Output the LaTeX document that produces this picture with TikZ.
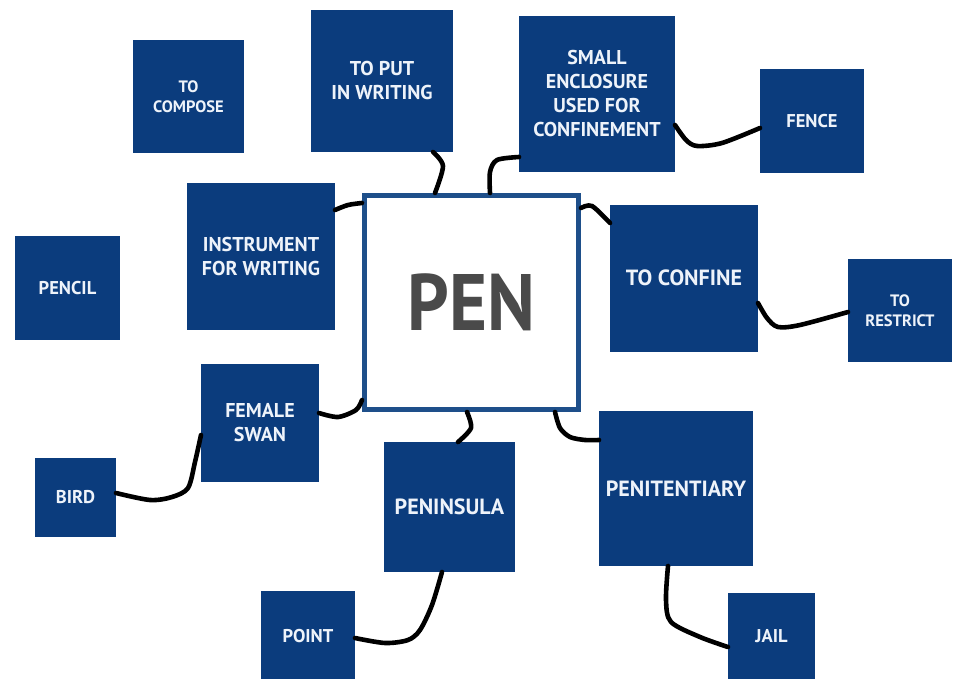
\documentclass[tikz,border=0pt]{standalone}
\usepackage{fontspec}
\setmainfont{PT Sans}
\newfontfamily\penfont{PT Sans}[FakeStretch=0.91]
\usetikzlibrary{calc}
\definecolor{boxblue}{HTML}{0B3C7D}
\definecolor{penblue}{HTML}{1E4F8A}
\definecolor{boxtext}{HTML}{EEF3FA}
\definecolor{pengray}{HTML}{4A4A4A}
\tikzset{
  wbox/.style={rectangle, fill=boxblue, draw=none, text=boxtext, align=center, inner sep=0pt, outer sep=0pt},
  fsS/.style={font=\bfseries\fontsize{16.5}{20}\selectfont},
  fsM/.style={font=\bfseries\fontsize{18.5}{22}\selectfont},
  fsL/.style={font=\bfseries\fontsize{20}{24}\selectfont},
  fsX/.style={font=\bfseries\fontsize{22}{25}\selectfont},
  link/.style={draw=black, line width=4.6pt, line cap=round, line join=round},
}
\begin{document}
\begin{tikzpicture}[x=1pt,y=-1pt]
\useasboundingbox (0,0) rectangle (955,679);
\fill[white] (0,0) rectangle (955,679);
% nodes
\node[wbox,fsS,minimum width=111pt,minimum height=113pt] (compose) at (188.5,96.5) {TO\\COMPOSE};
\node[wbox,fsL,minimum width=142pt,minimum height=142pt] (putw) at (382,81) {TO PUT\\IN WRITING};
\node[wbox,fsL,minimum width=156pt,minimum height=156pt] (encl) at (597,94) {SMALL\\ENCLOSURE\\USED FOR\\CONFINEMENT};
\node[wbox,fsM,minimum width=104pt,minimum height=104pt] (fence) at (812,121) {FENCE};
\node[wbox,fsL,minimum width=148pt,minimum height=147pt] (instr) at (261,256.5) {INSTRUMENT\\FOR WRITING};
\node[rectangle, draw=penblue, fill=white, line width=5pt, minimum size=214pt, inner sep=0pt, outer sep=2.5pt, text=pengray, font=\penfont\bfseries\fontsize{80}{80}\selectfont] (pen) at (471.5,302.5) {PEN};
\node[wbox,fsM,minimum width=105pt,minimum height=104pt] (pencil) at (67.5,288) {PENCIL};
\node[wbox,fsX,minimum width=148pt,minimum height=147pt] (confine) at (684,278) {TO CONFINE};
\node[wbox,fsS,minimum width=104pt,minimum height=103pt] (restrict) at (900,310.5) {TO\\RESTRICT};
\node[wbox,fsL,minimum width=118pt,minimum height=118pt] (swan) at (260,423) {FEMALE\\SWAN};
\node[wbox,fsM,minimum width=81pt,minimum height=79pt] (bird) at (75.5,497.5) {BIRD};
\node[wbox,fsX,minimum width=131pt,minimum height=130pt] (penin) at (449.5,507) {PENINSULA};
\node[wbox,fsX,minimum width=154pt,minimum height=155pt] (penit) at (676,488.5) {PENITENTIARY};
\node[wbox,fsM,minimum width=94pt,minimum height=90pt] (point) at (308,636) {POINT};
\node[wbox,fsM,minimum width=87pt,minimum height=86pt] (jail) at (771.5,636) {JAIL};
% connectors
\draw[link] plot[smooth] coordinates {($(putw.south)+(51,0)$) (443,166) ($(pen.north)+(-36.5,0)$)};
\draw[link] plot[smooth] coordinates {($(encl.west)+(0,63)$) (497,160) (490,172) ($(pen.north)+(18.5,0)$)};
\draw[link] plot[smooth] coordinates {($(instr.east)+(0,-46.5)$) (348,205) ($(pen.west)+(0,-99.5)$)};
\draw[link] plot[smooth] coordinates {($(pen.east)+(0,-94.5)$) (592,206) ($(confine.west)+(0,-55)$)};
\draw[link] plot[smooth] coordinates {($(encl.east)+(0,31)$) (686,140) (697,146) (722,143) ($(fence.west)+(0,7)$)};
\draw[link] plot[smooth] coordinates {($(confine.east)+(0,25)$) (767,318) (778,327) (800,325) ($(restrict.west)+(0,1.5)$)};
\draw[link] plot[smooth] coordinates {($(pen.west)+(0,97.5)$) (356,410) (338,417) ($(swan.east)+(0,-10)$)};
\draw[link] plot[smooth] coordinates {($(swan.west)+(0,12)$) (195,462) (188,488) (172,497) (150,500) ($(bird.east)+(0,-4.5)$)};
\draw[link] plot[smooth] coordinates {($(pen.south)+(-4.5,0)$) (471,428) ($(penin.north)+(8.5,0)$)};
\draw[link] plot[smooth] coordinates {($(penin.south)+(-7.5,0)$) (432,605) (420,630) (408,640) (385,643) ($(point.east)+(0,2)$)};
\draw[link] plot[smooth] coordinates {($(pen.south)+(83.5,0)$) (560,428) (570,437) (585,440) ($(penit.west)+(0,-48.5)$)};
\draw[link] plot[smooth] coordinates {($(penit.south)+(-8,0)$) (666,600) (671,622) (700,637) ($(jail.west)+(0,11)$)};
\end{tikzpicture}
\end{document}
